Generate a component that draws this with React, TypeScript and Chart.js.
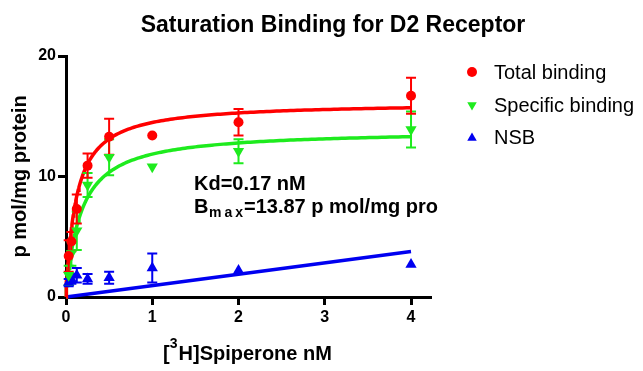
import React, { useEffect, useRef } from 'react';
import { Chart, registerables } from 'chart.js';

Chart.register(...registerables);

// ---- data ----
const concentrations = [0.03125, 0.0625, 0.125, 0.25, 0.5, 1, 2, 4];
const totalBinding = [3.4, 4.6, 7.3, 10.9, 13.3, 13.4, 14.5, 16.7];
const totalErr = [1.3, 0.8, 1.2, 1.0, 1.5, 0, 1.1, 1.5];
const specificBinding = [1.8, 3.6, 5.5, 9.3, 11.6, 10.8, 12.1, 13.9];
const specificErr = [0.8, 1.0, 1.6, 1.0, 1.5, 0, 1.0, 1.5];
const nsbBinding = [1.2, 1.5, 1.8, 1.5, 1.6, 2.4, 2.2, 2.7];
const nsbErr = [0.3, 0.4, 0.6, 0.4, 0.5, 1.2, 0, 0];

const specificFit = { kd: 0.17, bmax: 13.87 };
const totalFit = { kd: 0.116, bmax: 16.16 };
// NSB linear fit endpoints
const nsbLineX = [0, 4];
const nsbLineY = [0, 3.78];

const xTickValues = [0, 1, 2, 3, 4];
const yTickValues = [0, 10, 20];
const legendLabels = ['Total binding', 'Specific binding', 'NSB'];
const titleText = 'Saturation Binding for D2 Receptor';
const yTitleText = 'p mol/mg protein';
const kdText = 'Kd=0.17 nM';
const bmaxText = '=13.87 p mol/mg pro';

const RED = '#FF0000';
const GREEN = '#1EEB1E';
const BLUE = '#0000F0';
const FONT = '"Liberation Sans", Arial, sans-serif';

const fitX = Array.from({ length: 161 }, (_, i) => 4 * Math.pow(i / 160, 2));
const hyper = (p: { kd: number; bmax: number }) =>
  fitX.map((x) => ({ x, y: (p.bmax * x) / (p.kd + x) }));

function drawMarker(ctx: CanvasRenderingContext2D, style: string, x: number, y: number, r: number, color: string) {
  ctx.fillStyle = color;
  ctx.beginPath();
  if (style === 'circle') {
    ctx.arc(x, y, r, 0, Math.PI * 2);
  } else {
    const d = style === 'down' ? -1 : 1;
    ctx.moveTo(x, y - d * r);
    ctx.lineTo(x + r * 0.866, y + (d * r) / 2);
    ctx.lineTo(x - r * 0.866, y + (d * r) / 2);
    ctx.closePath();
  }
  ctx.fill();
}

const errorBarPlugin = {
  id: 'errorBars',
  afterDatasetDraw(chart: any, args: any) {
    if (args.index !== 3) return;
    const { ctx } = chart;
    const xs = chart.scales.x;
    const ys = chart.scales.y;
    const groups = [
      { vals: nsbBinding, err: nsbErr, color: BLUE },
      { vals: specificBinding, err: specificErr, color: GREEN },
      { vals: totalBinding, err: totalErr, color: RED },
    ];
    ctx.save();
    ctx.lineWidth = 2;
    groups.forEach((g) => {
      ctx.strokeStyle = g.color;
      concentrations.forEach((c, i) => {
        const e = g.err[i];
        if (!e) return;
        const px = xs.getPixelForValue(c);
        const top = ys.getPixelForValue(g.vals[i] + e);
        const bot = ys.getPixelForValue(g.vals[i] - e);
        ctx.beginPath();
        ctx.moveTo(px, top);
        ctx.lineTo(px, bot);
        ctx.moveTo(px - 5, top);
        ctx.lineTo(px + 5, top);
        ctx.moveTo(px - 5, bot);
        ctx.lineTo(px + 5, bot);
        ctx.stroke();
      });
    });
    ctx.restore();
  },
};

const decorPlugin = {
  id: 'decor',
  afterDraw(chart: any) {
    const { ctx } = chart;
    ctx.save();
    ctx.fillStyle = '#000';
    ctx.textBaseline = 'alphabetic';

    // title
    ctx.font = `bold 23px ${FONT}`;
    ctx.textAlign = 'center';
    ctx.fillText(titleText, 333, 32);

    // x-axis title with superscript
    ctx.textAlign = 'left';
    ctx.font = `bold 20px ${FONT}`;
    const partA = '[';
    const partB = 'H]Spiperone nM';
    const wA = ctx.measureText(partA).width;
    const wB = ctx.measureText(partB).width;
    ctx.font = `bold 14px ${FONT}`;
    const wS = ctx.measureText('3').width;
    const total = wA + wS + 1 + wB;
    let sx = 247.5 - total / 2;
    const base = 360;
    ctx.font = `bold 20px ${FONT}`;
    ctx.fillText(partA, sx, base);
    ctx.font = `bold 14px ${FONT}`;
    ctx.fillText('3', sx + wA, base - 12);
    ctx.font = `bold 20px ${FONT}`;
    ctx.fillText(partB, sx + wA + wS + 1, base);

    // annotation
    ctx.font = `bold 20px ${FONT}`;
    ctx.fillText(kdText, 194, 190);
    ctx.fillText('B', 194, 213);
    let ax = 194 + ctx.measureText('B').width + 0.5;
    ctx.font = `bold 14px ${FONT}`;
    ['m', 'a', 'x'].forEach((ch) => {
      ctx.fillText(ch, ax, 217);
      ax += ctx.measureText(ch).width + 3;
    });
    ctx.font = `bold 20px ${FONT}`;
    ctx.fillText(bmaxText, ax - 2, 213);

    // legend
    const styles = [
      { style: 'circle', color: RED, r: 5 },
      { style: 'down', color: GREEN, r: 5.5 },
      { style: 'up', color: BLUE, r: 5.5 },
    ];
    const markerY = [72, 105, 138];
    const textY = [79, 112, 144];
    ctx.font = `20px ${FONT}`;
    legendLabels.forEach((lab, i) => {
      drawMarker(ctx, styles[i].style, 472, markerY[i], styles[i].r, styles[i].color);
      ctx.fillStyle = '#000';
      ctx.fillText(lab, 494, textY[i]);
    });
    ctx.restore();
  },
};

export default function App() {
  const ref = useRef<HTMLCanvasElement | null>(null);

  useEffect(() => {
    document.body.style.margin = '0';
    const canvas = ref.current;
    if (!canvas) return;
    const pts = (vals: number[]) => concentrations.map((c, i) => ({ x: c, y: vals[i] }));
    const chart = new Chart(canvas, {
      type: 'scatter',
      data: {
        datasets: [
          {
            label: legendLabels[0],
            data: pts(totalBinding),
            pointStyle: 'circle',
            pointRadius: 5,
            backgroundColor: RED,
            borderColor: RED,
            borderWidth: 0,
            clip: false as any,
          },
          {
            label: legendLabels[1],
            data: pts(specificBinding),
            pointStyle: 'triangle',
            pointRotation: 180,
            pointRadius: 6.5,
            backgroundColor: GREEN,
            borderColor: GREEN,
            borderWidth: 0,
            clip: false as any,
          },
          {
            label: legendLabels[2],
            data: pts(nsbBinding),
            pointStyle: 'triangle',
            pointRadius: 6.5,
            backgroundColor: BLUE,
            borderColor: BLUE,
            borderWidth: 0,
            clip: false as any,
          },
          {
            label: 'Total fit',
            data: hyper(totalFit),
            showLine: true,
            pointRadius: 0,
            borderColor: RED,
            borderWidth: 3.5,
            clip: false as any,
          },
          {
            label: 'Specific fit',
            data: hyper(specificFit),
            showLine: true,
            pointRadius: 0,
            borderColor: GREEN,
            borderWidth: 3.5,
            clip: false as any,
          },
          {
            label: 'NSB fit',
            data: nsbLineX.map((x, i) => ({ x, y: nsbLineY[i] })),
            showLine: true,
            pointRadius: 0,
            borderColor: BLUE,
            borderWidth: 3.5,
            clip: false as any,
          },
        ],
      },
      options: {
        responsive: false,
        animation: false,
        devicePixelRatio: 1,
        layout: { padding: { top: 56, right: 213, left: 0, bottom: 0 } },
        plugins: {
          legend: { display: false },
          title: { display: false },
          tooltip: { enabled: false },
        },
        scales: {
          x: {
            type: 'linear',
            min: 0,
            max: 4.22,
            afterFit: (s: any) => {
              s.height = 74;
            },
            afterBuildTicks: (s: any) => {
              s.ticks = xTickValues.map((v) => ({ value: v }));
            },
            grid: { drawOnChartArea: false, drawTicks: true, tickLength: 8, lineWidth: 3, color: '#000' },
            border: { display: true, width: 3, color: '#000' },
            ticks: {
              padding: 3,
              color: '#000',
              font: { family: FONT, size: 16, weight: 'bold' },
              callback: (v: any) => String(v),
            },
          },
          y: {
            type: 'linear',
            min: 0,
            max: 20,
            afterFit: (s: any) => {
              s.width = 66;
            },
            afterBuildTicks: (s: any) => {
              s.ticks = yTickValues.map((v) => ({ value: v }));
            },
            grid: { drawOnChartArea: false, drawTicks: true, tickLength: 8, lineWidth: 3, color: '#000' },
            border: { display: true, width: 3, color: '#000' },
            ticks: {
              padding: 2,
              color: '#000',
              font: { family: FONT, size: 16, weight: 'bold' },
              callback: (v: any) => String(v),
            },
            title: {
              display: true,
              text: yTitleText,
              color: '#000',
              font: { family: FONT, size: 20, weight: 'bold' },
              padding: { top: 8, bottom: 0 },
            },
          },
        },
      },
      plugins: [errorBarPlugin, decorPlugin],
    });
    return () => chart.destroy();
  }, []);

  return (
    <div style={{ width: 643, height: 371, background: '#fff' }}>
      <canvas ref={ref} width={643} height={371} style={{ display: 'block', width: 643, height: 371 }} />
    </div>
  );
}
